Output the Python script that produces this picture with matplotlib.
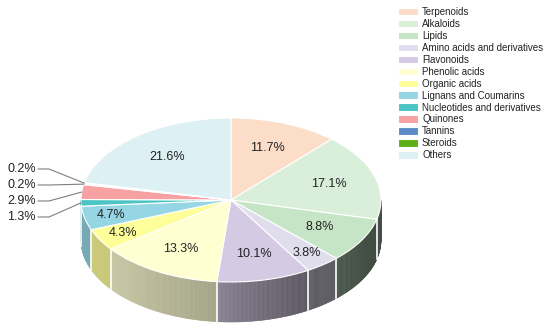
import numpy as np
import matplotlib
matplotlib.use('Agg')
import matplotlib.pyplot as plt
from matplotlib.collections import PolyCollection
from matplotlib.colors import to_rgb

categories = ["Terpenoids", "Alkaloids", "Lipids", "Amino acids and derivatives",
              "Flavonoids", "Phenolic acids", "Organic acids", "Lignans and Coumarins",
              "Nucleotides and derivatives", "Quinones", "Tannins", "Steroids", "Others"]
values = [11.7, 17.1, 8.8, 3.8, 10.1, 13.3, 4.3, 4.7, 1.3, 2.9, 0.2, 0.2, 21.6]
colors = ["#FBDDC8", "#D9EFDA", "#C6E5C6", "#E0DDED", "#D5CAE3", "#FFFFD2",
          "#FFFF99", "#96D5E3", "#4DC4C4", "#F7A1A3", "#5B8CC8", "#5DAF19", "#DDF0F4"]
outside_labels = ["Steroids", "Tannins", "Quinones", "Nucleotides and derivatives"]

plt.rcParams['font.family'] = ['Liberation Sans', 'DejaVu Sans']

W, H = 550, 329
fig = plt.figure(figsize=(5.5, 3.29), dpi=100)
ax = fig.add_axes([0, 0, 1, 1])

cx_px, cy_px, rx_px, ry_px, depth_px = 231, 200, 150, 82, 40
xlim = (-cx_px / rx_px, (W - cx_px) / rx_px)
ylim = ((cy_px - H) / ry_px, cy_px / ry_px)
d = depth_px / ry_px

def px2data(px, py):
    return (px - cx_px) / rx_px, (cy_px - py) / ry_px

vals = np.array(values, dtype=float)
fracs = vals / vals.sum()
cum = np.concatenate([[0], np.cumsum(fracs)])
theta_start = 90 - 360 * cum[:-1]
theta_end = 90 - 360 * cum[1:]

# side shading as a function of horizontal position
xs_shade = [-1, -0.8, -0.1, 0.5, 1]
fs_shade = [0.80, 0.78, 0.64, 0.43, 0.32]

polys, fcs = [], []
for i, (t0, t1) in enumerate(zip(theta_start, theta_end)):
    hi = min(t0, 0)
    lo = max(t1, -180)
    if hi <= lo:
        continue
    n = max(2, int((hi - lo) / 0.5) + 1)
    a = np.radians(np.linspace(hi, lo, n))
    base = np.array(to_rgb(colors[i]))
    for a1, a2 in zip(a[:-1], a[1:]):
        x1, y1 = np.cos(a1), np.sin(a1)
        x2, y2 = np.cos(a2), np.sin(a2)
        polys.append([(x1, y1), (x2, y2), (x2, y2 - d), (x1, y1 - d)])
        f = np.interp((x1 + x2) / 2, xs_shade, fs_shade)
        fcs.append(np.clip(base * f, 0, 1))
pc = PolyCollection(polys, facecolors=fcs, edgecolors=fcs, linewidths=0.4, zorder=1)
ax.add_collection(pc)

for t in theta_start:
    tt = ((t + 180) % 360) - 180
    if -180 < tt < 0:
        x = np.cos(np.radians(tt))
        y = np.sin(np.radians(tt))
        ax.plot([x, x], [y, y - d], color='white', lw=1.2, zorder=2)

wedges, _ = ax.pie(values, colors=colors, startangle=90, counterclock=False,
                   radius=1, wedgeprops=dict(edgecolor='white', linewidth=0.8, zorder=3))

ax.set_aspect('auto')
ax.set_xlim(xlim)
ax.set_ylim(ylim)
ax.axis('off')

# labels
out_y_px = 169
for i, (cat, v) in enumerate(zip(categories, values)):
    m = np.radians((theta_start[i] + theta_end[i]) / 2)
    if cat in outside_labels:
        k = outside_labels.index(cat)
        py = out_y_px + 16 * k
        tx, ty = px2data(36, py)
        ax.text(tx, ty, f"{v:.1f}%", ha='right', va='center', fontsize=9,
                color='#222222', zorder=5)
        x0, _ = px2data(38, py)
        x1, _ = px2data(49, py)
        ax.plot([x0, x1, np.cos(m)], [ty, ty, np.sin(m)], color='#7f7f7f',
                lw=0.8, zorder=4)
    else:
        r = 0.82 if v < 5 else 0.68
        ax.text(r * np.cos(m), r * np.sin(m), f"{v:.1f}%", ha='center', va='center',
                fontsize=9, color='#222222', zorder=5)

fig.legend(wedges, categories, loc='upper left', bbox_to_anchor=(398 / W, 1 - 7 / H),
           frameon=False, fontsize=7, handlelength=2.06, handleheight=0.82,
           handletextpad=0.41, labelspacing=0.2, borderpad=0, borderaxespad=0,
           labelcolor='#222222')

fig.savefig('out.png', dpi=100)
